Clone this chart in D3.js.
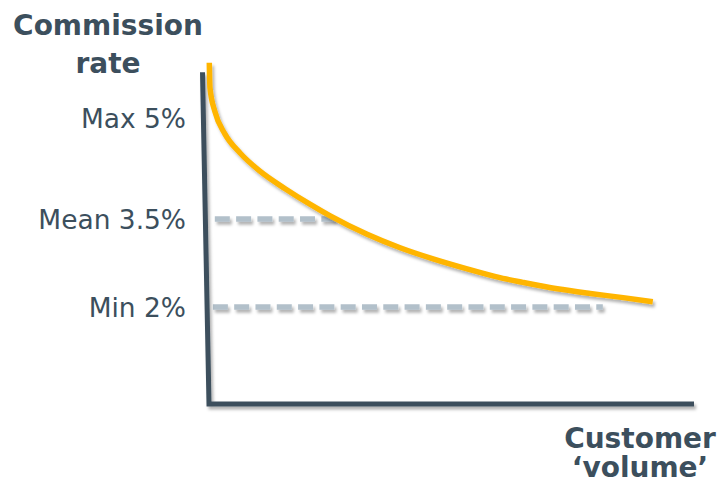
<!DOCTYPE html>
<html>
<head>
<meta charset="utf-8">
<script src="https://cdn.jsdelivr.net/npm/d3@7"></script>
<style>
  html, body { margin: 0; padding: 0; background: #ffffff; }
  svg { display: block; }
</style>
</head>
<body>
<script>
// ---- data ----
const rateLevels = [5, 3.5, 2];
const rateLabels = ["Max 5%", "Mean 3.5%", "Min 2%"];
const volume = [0.06, 0.2, 1.24, 3.3, 6.4, 10.5, 15.7, 20.8, 24.9, 32.6, 39.4, 46.2, 53.2, 60, 64.7, 71.8, 78.6, 85.4, 91.5];
const rate   = [5.82, 5.45, 5.09, 4.76, 4.48, 4.21, 3.95, 3.72, 3.55, 3.24, 3.01, 2.82, 2.65, 2.50, 2.42, 2.31, 2.23, 2.16, 2.09];
const meanLineVolume = [1.2, 26];
const minLineVolume = [0.8, 81.2];
const yAxisLabel = ["Commission", "rate"];
const xAxisLabel = ["Customer", "\u2018volume\u2019"];
const axisMaxRate = 5.68;
const axisMaxVolume = 100;

// ---- layout ----
const W = 717, H = 483;
const ink = "#3c4f5d", curveCol = "#ffb500", dashCol = "#b2c0ca";
const x = d3.scaleLinear().domain([0, 100]).range([209, 694]);
const y = d3.scaleLinear().domain([0, 2, 3.5, 5]).range([404, 307, 219, 118]);

const svg = d3.select("body").append("svg").attr("width", W).attr("height", H);
const defs = svg.append("defs");
const f = defs.append("filter").attr("id", "sh")
  .attr("filterUnits", "userSpaceOnUse")
  .attr("x", 0).attr("y", 0).attr("width", W).attr("height", H);
f.append("feDropShadow").attr("dx", 2).attr("dy", 3).attr("stdDeviation", 1.8)
  .attr("flood-color", "#000").attr("flood-opacity", 0.3);

// dashed reference lines
[[3.5, meanLineVolume], [2, minLineVolume]].forEach(([r, v]) => {
  svg.append("line")
    .attr("x1", x(v[0])).attr("x2", x(v[1]))
    .attr("y1", y(r)).attr("y2", y(r))
    .attr("stroke", dashCol).attr("stroke-width", 5.5)
    .attr("stroke-dasharray", "15 6.3")
    .attr("filter", "url(#sh)");
});

// axes (slightly slanted vertical axis as in the reference)
svg.append("path")
  .attr("d", d3.line()([[x(0) - 6.5, y(axisMaxRate)], [x(0), y(0)], [x(axisMaxVolume), y(0)]]))
  .attr("fill", "none").attr("stroke", ink).attr("stroke-width", 5)
  .attr("stroke-linejoin", "miter")
  .attr("filter", "url(#sh)");

// curve
const pts = volume.map((v, i) => [v, rate[i]]);
svg.append("path")
  .datum(pts)
  .attr("d", d3.line().x(d => x(d[0])).y(d => y(d[1])).curve(d3.curveMonotoneX))
  .attr("fill", "none").attr("stroke", curveCol).attr("stroke-width", 5.5)
  .attr("stroke-linecap", "butt")
  .attr("filter", "url(#sh)");

// level labels
svg.selectAll("text.lvl").data(rateLevels).enter().append("text")
  .attr("class", "lvl")
  .attr("x", 186).attr("y", d => y(d))
  .attr("dy", "0.36em")
  .attr("text-anchor", "end")
  .attr("font-family", "DejaVu Sans, Verdana, sans-serif")
  .attr("font-size", 27)
  .attr("fill", ink)
  .attr("transform", "translate(186,0) scale(0.98,1) translate(-186,0)")
  .text((d, i) => rateLabels[i]);

// axis titles
const titleFont = { "font-family": "DejaVu Sans, Verdana, sans-serif", "font-size": 28, "font-weight": "bold" };
yAxisLabel.forEach((t, i) => {
  const el = svg.append("text").attr("x", 108).attr("y", 35 + i * 38)
    .attr("text-anchor", "middle").attr("fill", ink).text(t);
  Object.entries(titleFont).forEach(([k, v]) => el.attr(k, v));
});
xAxisLabel.forEach((t, i) => {
  const el = svg.append("text").attr("x", 640).attr("y", 448 + i * 29)
    .attr("text-anchor", "middle").attr("fill", ink).text(t);
  Object.entries(titleFont).forEach(([k, v]) => el.attr(k, v));
});
</script>
</body>
</html>
